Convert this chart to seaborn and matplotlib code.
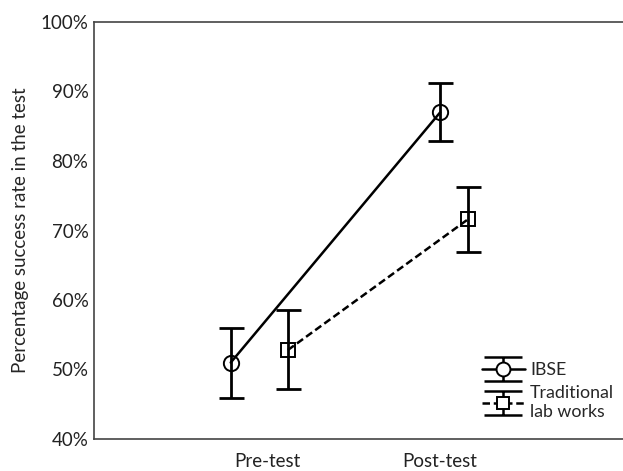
import numpy as np
import pandas as pd
import seaborn as sns
import matplotlib
matplotlib.use("Agg")
import matplotlib.pyplot as plt
from matplotlib.lines import Line2D
from matplotlib.path import Path
from matplotlib.legend_handler import HandlerTuple

# Mean success rate (%) and error bar limits per group and test
phases = ["Pre-test", "Post-test"]
ibse_mean = [51.0, 87.0]
ibse_low = [45.9, 82.9]
ibse_high = [56.0, 91.2]
trad_mean = [52.8, 71.6]
trad_low = [47.2, 66.9]
trad_high = [58.5, 76.3]
groups = ["IBSE", "Traditional\nlab works"]

# horizontal placement of each group within a category
ibse_shift = [-0.21, 0.0]
trad_shift = [0.12, 0.16]

sns.set_theme(style="white")
plt.rcParams["font.family"] = ["Lato", "DejaVu Sans"]

rows = []
for i, ph in enumerate(phases):
    rows.append(dict(group=groups[0], pos=i + ibse_shift[i], rate=ibse_mean[i]))
    rows.append(dict(group=groups[1], pos=i + trad_shift[i], rate=trad_mean[i]))
df = pd.DataFrame(rows)

fig = plt.figure(figsize=(6.23, 4.71), dpi=100)
W, H = 623, 471
left, right, top, bottom = 94, 660, 22, 439
ax = fig.add_axes([left / W, 1 - bottom / H, (right - left) / W, (bottom - top) / H])

sns.lineplot(data=df, x="pos", y="rate", style="group", markers=["o", "s"],
             dashes=[(None, None), (3, 1.5)], color="black", linewidth=1.8,
             markersize=11, markerfacecolor="none", markeredgecolor="black",
             markeredgewidth=1.4, legend=False, ax=ax)
lines = ax.get_lines()
lines[1].set_markersize(10)

for shift, mean, lo, hi in [(ibse_shift, ibse_mean, ibse_low, ibse_high),
                            (trad_shift, trad_mean, trad_low, trad_high)]:
    x = np.arange(len(phases)) + np.array(shift)
    m = np.array(mean)
    err = [m - np.array(lo), np.array(hi) - m]
    ax.errorbar(x, m, yerr=err, fmt="none", ecolor="black",
                elinewidth=2.0, capsize=9, capthick=2.0)

# legend glyph: error bar with wide caps
ibeam = Path([(-1, 0.6), (1, 0.6), (0, 0.6), (0, -0.6), (-1, -0.6), (1, -0.6)],
             [Path.MOVETO, Path.LINETO, Path.MOVETO, Path.LINETO,
              Path.MOVETO, Path.LINETO])
handles = []
for ls, mk, ms in [("-", "o", 10), ((0, (3, 1.5)), "s", 9)]:
    bar = Line2D([], [], linestyle="none", marker=ibeam, markersize=28,
                 markeredgecolor="black", markeredgewidth=1.8, color="black")
    ln = Line2D([], [], color="black", linestyle=ls, linewidth=1.8, marker=mk,
                markersize=ms, markerfacecolor="white", markeredgecolor="black",
                markeredgewidth=1.4)
    handles.append((bar, ln))

ax.set_xlim(-1.0, 2.27)
ax.set_ylim(40, 100)
ax.set_xticks(range(len(phases)))
ax.set_xticklabels(phases)
ax.set_yticks(np.arange(40, 101, 10))
ax.set_yticklabels([f"{v}%" for v in range(40, 101, 10)])
ax.set_xlabel("")
ax.set_ylabel("Percentage success rate in the test", fontsize=13.5, labelpad=8)
ax.tick_params(axis="both", labelsize=13.5, colors="#222222", length=3,
               direction="in", width=0.8)
ax.tick_params(axis="x", pad=10)
ax.tick_params(axis="y", pad=4)
for s in ax.spines.values():
    s.set_color("#444444")
    s.set_linewidth(1.2)

leg = ax.legend(handles, groups, handler_map={tuple: HandlerTuple(ndivide=1)},
                loc="upper left", bbox_to_anchor=(466 / W, 1 - 346 / H),
                bbox_transform=fig.transFigure, frameon=False, fontsize=12.8,
                handlelength=2.4, handletextpad=0.3, labelspacing=0.4)

fig.savefig("out.png", dpi=100, facecolor="white")
